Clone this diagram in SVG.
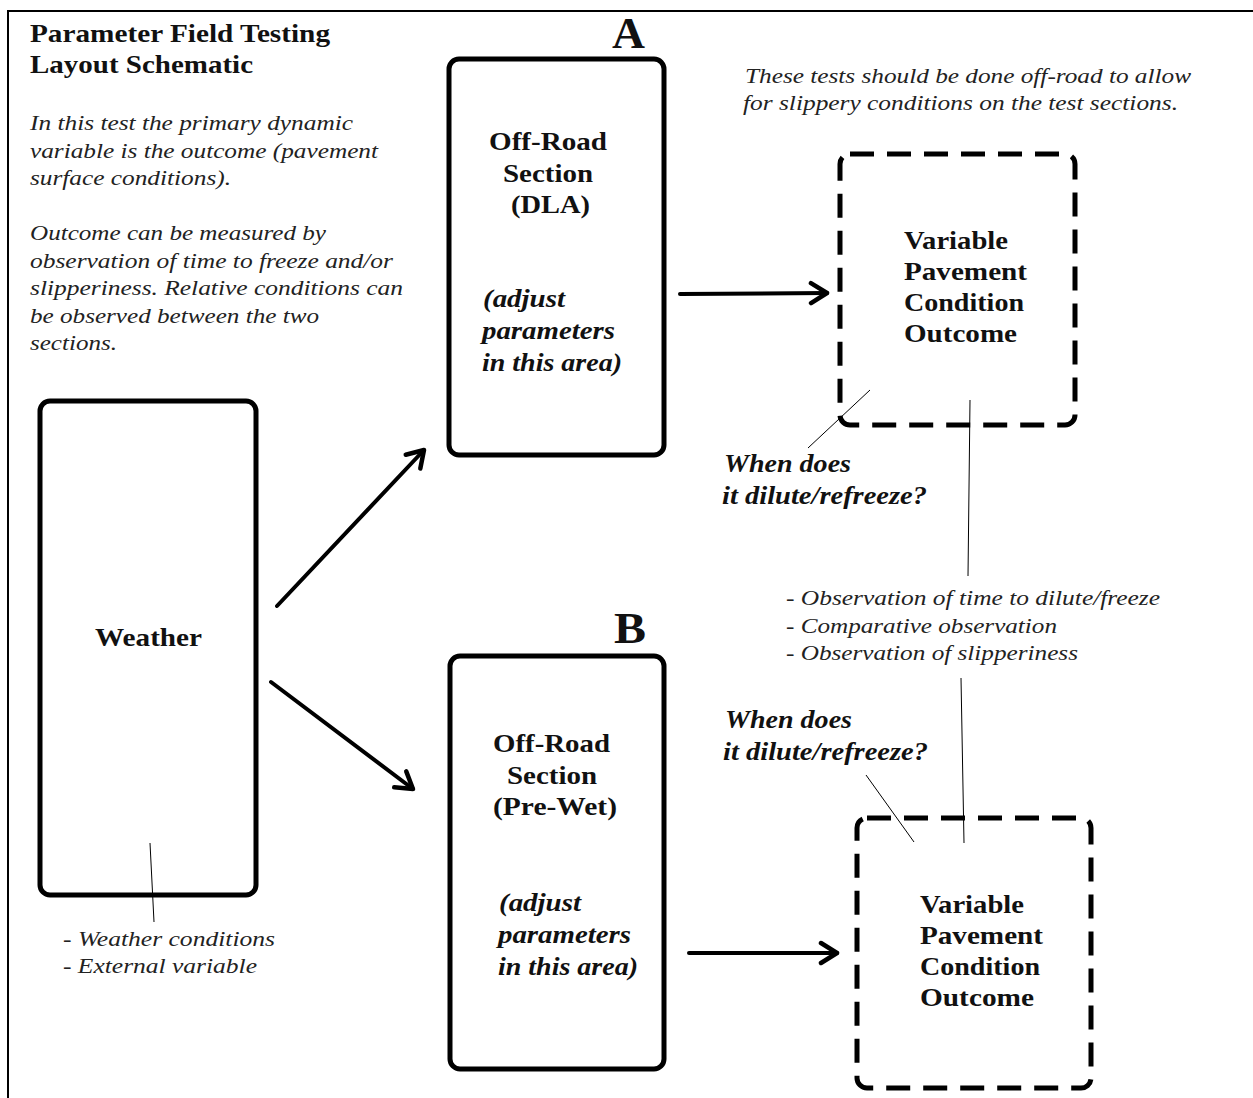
<svg xmlns="http://www.w3.org/2000/svg" width="1253" height="1098" viewBox="0 0 1253 1098">
<style>
.title{font-family:"Liberation Serif","Times New Roman",serif;font-weight:bold;font-size:26px;fill:#111}
.note{font-family:"Liberation Serif","Times New Roman",serif;font-style:italic;font-size:22px;fill:#222}
.lbl{font-family:"Liberation Serif","Times New Roman",serif;font-weight:bold;font-size:26px;fill:#111}
.bi{font-family:"Liberation Serif","Times New Roman",serif;font-weight:bold;font-style:italic;font-size:26px;fill:#111}
.big{font-family:"Liberation Serif","Times New Roman",serif;font-weight:bold;font-size:44px;fill:#111}
.box{fill:none;stroke:#000;stroke-width:5}
.dash{fill:none;stroke:#000;stroke-width:5;stroke-dasharray:24 13}
.arrow{fill:none;stroke:#000;stroke-width:4;stroke-linecap:round;marker-end:url(#chev)}
.thin{fill:none;stroke:#000;stroke-width:1}
</style>
<defs>
<marker id="chev" viewBox="0 0 22 26" refX="19" refY="13" markerWidth="22" markerHeight="26" markerUnits="userSpaceOnUse" orient="auto">
<path d="M3,3 L19,13 L3,23" fill="none" stroke="#000" stroke-width="4.5" stroke-linecap="round" stroke-linejoin="round"/>
</marker>
</defs>
<rect width="1253" height="1098" fill="#fff"/>
<g id="frame">
<path d="M8,1098 V11 H1253" fill="none" stroke="#000" stroke-width="2"/>
</g>
<g id="header">
<text class="title" x="30" y="42" textLength="300" lengthAdjust="spacingAndGlyphs">Parameter Field Testing</text>
<text class="title" x="30" y="73" textLength="223" lengthAdjust="spacingAndGlyphs">Layout Schematic</text>
<text class="note" x="30" y="130" textLength="323" lengthAdjust="spacingAndGlyphs">In this test the primary dynamic</text>
<text class="note" x="30" y="158" textLength="348" lengthAdjust="spacingAndGlyphs">variable is the outcome (pavement</text>
<text class="note" x="30" y="185" textLength="201" lengthAdjust="spacingAndGlyphs">surface conditions).</text>
<text class="note" x="30" y="240" textLength="296" lengthAdjust="spacingAndGlyphs">Outcome can be measured by</text>
<text class="note" x="30" y="268" textLength="363" lengthAdjust="spacingAndGlyphs">observation of time to freeze and/or</text>
<text class="note" x="30" y="295" textLength="373" lengthAdjust="spacingAndGlyphs">slipperiness. Relative conditions can</text>
<text class="note" x="30" y="323" textLength="289" lengthAdjust="spacingAndGlyphs">be observed between the two</text>
<text class="note" x="30" y="350" textLength="87" lengthAdjust="spacingAndGlyphs">sections.</text>
<text class="note" x="745" y="83" textLength="446" lengthAdjust="spacingAndGlyphs">These tests should be done off-road to allow</text>
<text class="note" x="743" y="110" textLength="435" lengthAdjust="spacingAndGlyphs">for slippery conditions on the test sections.</text>
</g>
<g id="node-weather">
<rect class="box" x="40" y="401" width="216" height="494" rx="10"/>
<text class="lbl" x="95" y="646" textLength="107" lengthAdjust="spacingAndGlyphs">Weather</text>
<text class="note" x="63" y="946" textLength="212" lengthAdjust="spacingAndGlyphs">- Weather conditions</text>
<text class="note" x="63" y="973" textLength="194" lengthAdjust="spacingAndGlyphs">- External variable</text>
</g>
<g id="node-a">
<text class="big" x="612" y="48" textLength="33" lengthAdjust="spacingAndGlyphs">A</text>
<rect class="box" x="449" y="59" width="215" height="396" rx="10"/>
<text class="lbl" x="489" y="150" textLength="118" lengthAdjust="spacingAndGlyphs">Off-Road</text>
<text class="lbl" x="503" y="182" textLength="90" lengthAdjust="spacingAndGlyphs">Section</text>
<text class="lbl" x="511" y="213" textLength="79" lengthAdjust="spacingAndGlyphs">(DLA)</text>
<text class="bi" x="483" y="307" textLength="82" lengthAdjust="spacingAndGlyphs">(adjust</text>
<text class="bi" x="482" y="339" textLength="133" lengthAdjust="spacingAndGlyphs">parameters</text>
<text class="bi" x="482" y="371" textLength="140" lengthAdjust="spacingAndGlyphs">in this area)</text>
</g>
<g id="node-outcome-a">
<rect class="dash" x="840" y="154" width="235" height="271" rx="10"/>
<text class="lbl" x="904" y="249" textLength="104" lengthAdjust="spacingAndGlyphs">Variable</text>
<text class="lbl" x="904" y="280" textLength="123" lengthAdjust="spacingAndGlyphs">Pavement</text>
<text class="lbl" x="904" y="311" textLength="120" lengthAdjust="spacingAndGlyphs">Condition</text>
<text class="lbl" x="904" y="342" textLength="113" lengthAdjust="spacingAndGlyphs">Outcome</text>
</g>
<g id="label-when-a">
<text class="bi" x="724" y="472" textLength="127" lengthAdjust="spacingAndGlyphs">When does</text>
<text class="bi" x="722" y="504" textLength="205" lengthAdjust="spacingAndGlyphs">it dilute/refreeze?</text>
</g>
<g id="label-observation">
<text class="note" x="786" y="605" textLength="374" lengthAdjust="spacingAndGlyphs">- Observation of time to dilute/freeze</text>
<text class="note" x="786" y="633" textLength="271" lengthAdjust="spacingAndGlyphs">- Comparative observation</text>
<text class="note" x="786" y="660" textLength="292" lengthAdjust="spacingAndGlyphs">- Observation of slipperiness</text>
</g>
<g id="node-b">
<text class="big" x="614" y="643" textLength="32" lengthAdjust="spacingAndGlyphs">B</text>
<rect class="box" x="450" y="656" width="214" height="413" rx="10"/>
<text class="lbl" x="493" y="752" textLength="117" lengthAdjust="spacingAndGlyphs">Off-Road</text>
<text class="lbl" x="507" y="784" textLength="90" lengthAdjust="spacingAndGlyphs">Section</text>
<text class="lbl" x="493" y="815" textLength="124" lengthAdjust="spacingAndGlyphs">(Pre-Wet)</text>
<text class="bi" x="499" y="911" textLength="82" lengthAdjust="spacingAndGlyphs">(adjust</text>
<text class="bi" x="498" y="943" textLength="133" lengthAdjust="spacingAndGlyphs">parameters</text>
<text class="bi" x="498" y="975" textLength="140" lengthAdjust="spacingAndGlyphs">in this area)</text>
</g>
<g id="label-when-b">
<text class="bi" x="725" y="728" textLength="127" lengthAdjust="spacingAndGlyphs">When does</text>
<text class="bi" x="723" y="760" textLength="205" lengthAdjust="spacingAndGlyphs">it dilute/refreeze?</text>
</g>
<g id="node-outcome-b">
<rect class="dash" x="857" y="818" width="234" height="270" rx="10"/>
<text class="lbl" x="920" y="913" textLength="104" lengthAdjust="spacingAndGlyphs">Variable</text>
<text class="lbl" x="920" y="944" textLength="123" lengthAdjust="spacingAndGlyphs">Pavement</text>
<text class="lbl" x="920" y="975" textLength="120" lengthAdjust="spacingAndGlyphs">Condition</text>
<text class="lbl" x="920" y="1006" textLength="114" lengthAdjust="spacingAndGlyphs">Outcome</text>
</g>
<g id="connectors">
<line class="arrow" x1="277" y1="606" x2="424" y2="450"/>
<line class="arrow" x1="271" y1="682" x2="413" y2="789"/>
<line class="arrow" x1="680" y1="294" x2="827" y2="293"/>
<line class="arrow" x1="689" y1="953" x2="837" y2="953"/>
<line class="thin" x1="870" y1="390" x2="808" y2="448"/>
<line class="thin" x1="970" y1="400" x2="968" y2="576"/>
<line class="thin" x1="961" y1="678" x2="964" y2="843"/>
<line class="thin" x1="866" y1="775" x2="914" y2="842"/>
<line class="thin" x1="150" y1="843" x2="154" y2="922"/>
</g>
</svg>
